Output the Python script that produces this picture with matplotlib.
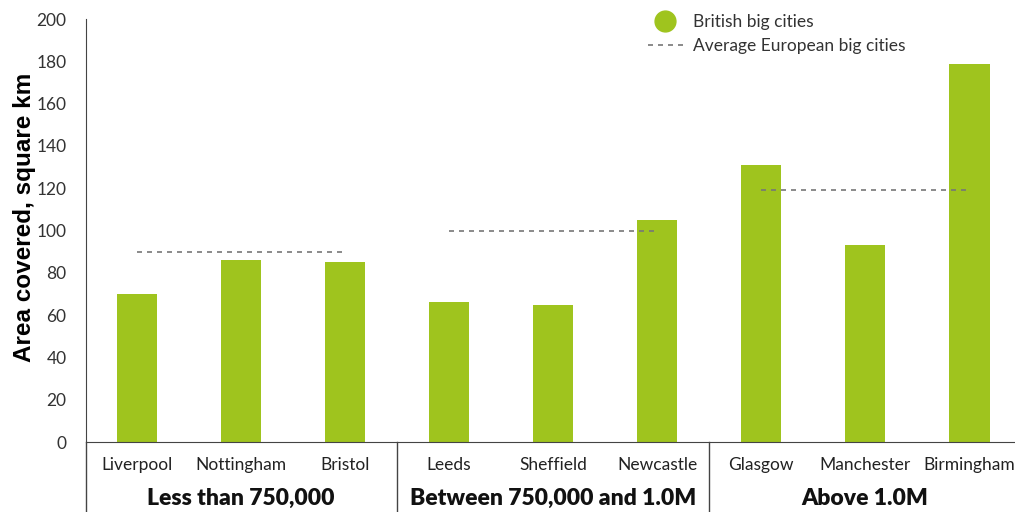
import matplotlib.pyplot as plt
from matplotlib.lines import Line2D

plt.rcParams['font.family'] = ['Lato', 'DejaVu Sans']

# data
cities = ['Liverpool', 'Nottingham', 'Bristol',
          'Leeds', 'Sheffield', 'Newcastle',
          'Glasgow', 'Manchester', 'Birmingham']
area = [70, 86, 85, 66, 65, 105, 131, 93, 179]
groups = ['Less than 750,000', 'Between 750,000 and 1.0M', 'Above 1.0M']
euro_avg = [90, 100, 119]

green = '#9fc41e'
grey = '#444444'

fig = plt.figure(figsize=(10.15, 5.12), dpi=100)
ax = fig.add_axes([0.0847, 0.1367, 0.9153, 0.826])

x = list(range(len(cities)))
ax.bar(x, area, width=0.39, color=green, zorder=2)

# european averages, one dashed line per group of three
for g, avg in enumerate(euro_avg):
    ax.plot([3 * g, 3 * g + 2], [avg, avg], ls=(0, (3, 3)), color='#777777', lw=1.2, zorder=3)

ax.set_xlim(-0.49, 8.44)
ax.set_ylim(0, 200)
ax.set_yticks(range(0, 201, 20))
ax.tick_params(axis='y', length=0, pad=14, labelsize=12.5, labelcolor='#333333')
ax.set_xticks([])

for s in ['top', 'right']:
    ax.spines[s].set_visible(False)
ax.spines['left'].set_color(grey)
ax.spines['bottom'].set_color(grey)

ax.set_ylabel('Area covered, square km', fontsize=17.5, fontweight='bold',
              family=['Liberation Sans', 'DejaVu Sans'])
ax.yaxis.set_label_coords(-0.054, 0.53)

trans = ax.get_xaxis_transform()
# left spine and group separators run down past the baseline
for xv in [-0.49, 2.5, 5.5]:
    ax.plot([xv, xv], [0, -0.2], color=grey, lw=1, transform=trans, clip_on=False)

for i, c in enumerate(cities):
    ax.text(i, -0.055, c, transform=trans, ha='center', va='center',
            fontsize=12.5, color='#222222')
for g, name in enumerate(groups):
    ax.text(3 * g + 1, -0.133, name, transform=trans, ha='center', va='center',
            fontsize=16.5, fontweight='heavy', color='#111111')

handles = [Line2D([], [], marker='o', ls='', color=green, markersize=15),
           Line2D([], [], ls=(0, (3, 3)), color='#777777', lw=1.2)]
ax.legend(handles, ['British big cities', 'Average European big cities'],
          loc='upper left', bbox_to_anchor=(0.588, 1.048), frameon=False,
          fontsize=12.5, handlelength=2.0, handletextpad=0.6, labelspacing=0.45,
          labelcolor='#333333')

fig.savefig('out.png', dpi=100)
